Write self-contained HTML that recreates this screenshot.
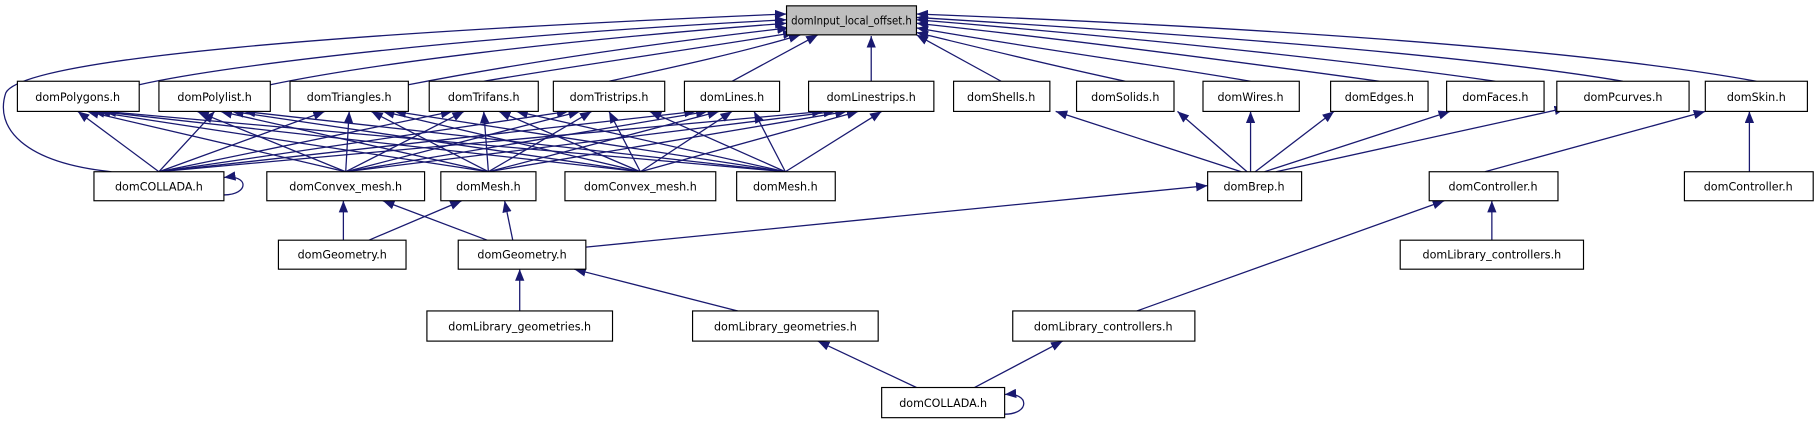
<!DOCTYPE html>
<html><head><meta charset="utf-8"><style>
html,body{margin:0;padding:0;background:#fff;}
svg{display:block;}
text{font-family:"DejaVu Sans","Liberation Sans",sans-serif;font-size:9.6px;fill:#000;text-anchor:middle;}
rect{fill:#fff;stroke:#000;stroke-width:1;}
.e{stroke:#191970;stroke-width:1.1;fill:none;marker-end:url(#a);}
</style></head><body>
<svg width="1819" height="427" viewBox="0 0 1568 368" xmlns="http://www.w3.org/2000/svg">
<defs><marker id="a" viewBox="0 0 10 8" refX="10" refY="4" markerWidth="10" markerHeight="8" markerUnits="userSpaceOnUse" orient="auto"><path d="M0,0L10,4L0,8z" fill="#191970"/></marker></defs>
<path class="e" d="M120,73 C200,55 420,30 678,17"/>
<path class="e" d="M233,73 C320,55 480,35 678,20"/>
<path class="e" d="M352,73 C430,58 540,40 680,24"/>
<path class="e" d="M417,70 C500,56 600,42 685,28"/>
<path class="e" d="M525,70 C580,58 640,45 690,30"/>
<path class="e" d="M631,70 L705,30"/>
<path class="e" d="M751,70 L751,31"/>
<path class="e" d="M863,70 L790,30"/>
<path class="e" d="M970,70 C900,55 840,40 790,28"/>
<path class="e" d="M1078,70 C990,55 880,40 790,24"/>
<path class="e" d="M1189,70 C1080,55 930,35 790,20"/>
<path class="e" d="M1289,70 C1150,50 950,30 790,17"/>
<path class="e" d="M1399,70 C1250,45 1000,28 790,15"/>
<path class="e" d="M1514,70 C1350,40 1050,22 790,12"/>
<path class="e" d="M96,148 C20,140 -5,110 5,80 C20,50 300,28 678,12"/>
<g>
<line class="e" x1="137" y1="148" x2="67" y2="96"/>
<line class="e" x1="298" y1="148" x2="75" y2="96"/>
<line class="e" x1="421" y1="148" x2="80" y2="96"/>
<line class="e" x1="552" y1="148" x2="85" y2="96"/>
<line class="e" x1="677" y1="148" x2="90" y2="96"/>
<line class="e" x1="137" y1="148" x2="185" y2="96"/>
<line class="e" x1="298" y1="148" x2="170" y2="96"/>
<line class="e" x1="421" y1="148" x2="190" y2="96"/>
<line class="e" x1="552" y1="148" x2="200" y2="96"/>
<line class="e" x1="677" y1="148" x2="210" y2="96"/>
<line class="e" x1="137" y1="148" x2="280" y2="96"/>
<line class="e" x1="298" y1="148" x2="301" y2="96"/>
<line class="e" x1="421" y1="148" x2="320" y2="96"/>
<line class="e" x1="552" y1="148" x2="330" y2="96"/>
<line class="e" x1="677" y1="148" x2="340" y2="96"/>
<line class="e" x1="137" y1="148" x2="390" y2="96"/>
<line class="e" x1="298" y1="148" x2="400" y2="96"/>
<line class="e" x1="421" y1="148" x2="417" y2="96"/>
<line class="e" x1="552" y1="148" x2="430" y2="96"/>
<line class="e" x1="677" y1="148" x2="445" y2="96"/>
<line class="e" x1="137" y1="148" x2="490" y2="96"/>
<line class="e" x1="298" y1="148" x2="500" y2="96"/>
<line class="e" x1="421" y1="148" x2="510" y2="96"/>
<line class="e" x1="552" y1="148" x2="525" y2="96"/>
<line class="e" x1="677" y1="148" x2="560" y2="96"/>
<line class="e" x1="137" y1="148" x2="600" y2="96"/>
<line class="e" x1="298" y1="148" x2="610" y2="96"/>
<line class="e" x1="421" y1="148" x2="620" y2="96"/>
<line class="e" x1="552" y1="148" x2="631" y2="96"/>
<line class="e" x1="677" y1="148" x2="650" y2="96"/>
<line class="e" x1="137" y1="148" x2="710" y2="96"/>
<line class="e" x1="298" y1="148" x2="720" y2="96"/>
<line class="e" x1="421" y1="148" x2="730" y2="96"/>
<line class="e" x1="552" y1="148" x2="740" y2="96"/>
<line class="e" x1="677" y1="148" x2="760" y2="96"/>
</g>
<path class="e" d="M193,168 C215,168 215,150 193,153"/>
<path class="e" d="M866,357 C888,357 888,338 866,340"/>
<line class="e" x1="296" y1="207" x2="296" y2="173"/>
<line class="e" x1="318" y1="207" x2="398" y2="173"/>
<line class="e" x1="420" y1="207" x2="330" y2="173"/>
<line class="e" x1="442" y1="207" x2="435" y2="173"/>
<line class="e" x1="505" y1="213" x2="1041" y2="160"/>
<line class="e" x1="1070" y1="148" x2="910" y2="96"/>
<line class="e" x1="1075" y1="148" x2="1015" y2="96"/>
<line class="e" x1="1078" y1="148" x2="1078" y2="96"/>
<line class="e" x1="1082" y1="148" x2="1150" y2="96"/>
<line class="e" x1="1090" y1="148" x2="1250" y2="96"/>
<line class="e" x1="1100" y1="148" x2="1350" y2="93"/>
<line class="e" x1="1280" y1="148" x2="1470" y2="96"/>
<line class="e" x1="1508" y1="148" x2="1508" y2="96"/>
<line class="e" x1="1286" y1="207" x2="1286" y2="173"/>
<line class="e" x1="980" y1="268" x2="1245" y2="173"/>
<line class="e" x1="448" y1="268" x2="448" y2="232"/>
<line class="e" x1="636" y1="268" x2="495" y2="232"/>
<line class="e" x1="790" y1="334" x2="705" y2="294"/>
<line class="e" x1="840" y1="334" x2="916" y2="294"/>
<rect x="678" y="5" width="112" height="25" style="fill:#bfbfbf"/><text x="734" y="21" textLength="104" lengthAdjust="spacingAndGlyphs">domInput_local_offset.h</text>
<rect x="15" y="70" width="105" height="26"/><text x="67" y="87">domPolygons.h</text>
<rect x="137" y="70" width="96" height="26"/><text x="185" y="87">domPolylist.h</text>
<rect x="250" y="70" width="102" height="26"/><text x="301" y="87">domTriangles.h</text>
<rect x="370" y="70" width="94" height="26"/><text x="417" y="87">domTrifans.h</text>
<rect x="477" y="70" width="96" height="26"/><text x="525" y="87">domTristrips.h</text>
<rect x="590" y="70" width="82" height="26"/><text x="631" y="87">domLines.h</text>
<rect x="697" y="70" width="108" height="26"/><text x="751" y="87">domLinestrips.h</text>
<rect x="822" y="70" width="83" height="26"/><text x="863" y="87">domShells.h</text>
<rect x="928" y="70" width="84" height="26"/><text x="970" y="87">domSolids.h</text>
<rect x="1037" y="70" width="83" height="26"/><text x="1078" y="87">domWires.h</text>
<rect x="1147" y="70" width="84" height="26"/><text x="1189" y="87">domEdges.h</text>
<rect x="1247" y="70" width="84" height="26"/><text x="1289" y="87">domFaces.h</text>
<rect x="1342" y="70" width="114" height="26"/><text x="1399" y="87">domPcurves.h</text>
<rect x="1470" y="70" width="88" height="26"/><text x="1514" y="87">domSkin.h</text>
<rect x="81" y="148" width="112" height="25"/><text x="137" y="164">domCOLLADA.h</text>
<rect x="230" y="148" width="136" height="25"/><text x="298" y="164">domConvex_mesh.h</text>
<rect x="380" y="148" width="82" height="25"/><text x="421" y="164">domMesh.h</text>
<rect x="487" y="148" width="130" height="25"/><text x="552" y="164">domConvex_mesh.h</text>
<rect x="635" y="148" width="85" height="25"/><text x="677" y="164">domMesh.h</text>
<rect x="1041" y="148" width="81" height="25"/><text x="1081" y="164">domBrep.h</text>
<rect x="1232" y="148" width="111" height="25"/><text x="1287" y="164">domController.h</text>
<rect x="1452" y="148" width="111" height="25"/><text x="1507" y="164">domController.h</text>
<rect x="240" y="207" width="110" height="25"/><text x="295" y="223">domGeometry.h</text>
<rect x="395" y="207" width="110" height="25"/><text x="450" y="223">domGeometry.h</text>
<rect x="1207" y="207" width="158" height="25"/><text x="1286" y="223">domLibrary_controllers.h</text>
<rect x="368" y="268" width="160" height="26"/><text x="448" y="285">domLibrary_geometries.h</text>
<rect x="597" y="268" width="160" height="26"/><text x="677" y="285">domLibrary_geometries.h</text>
<rect x="873" y="268" width="157" height="26"/><text x="951" y="285">domLibrary_controllers.h</text>
<rect x="760" y="334" width="106" height="26"/><text x="813" y="351">domCOLLADA.h</text>
</svg>
</body></html>
